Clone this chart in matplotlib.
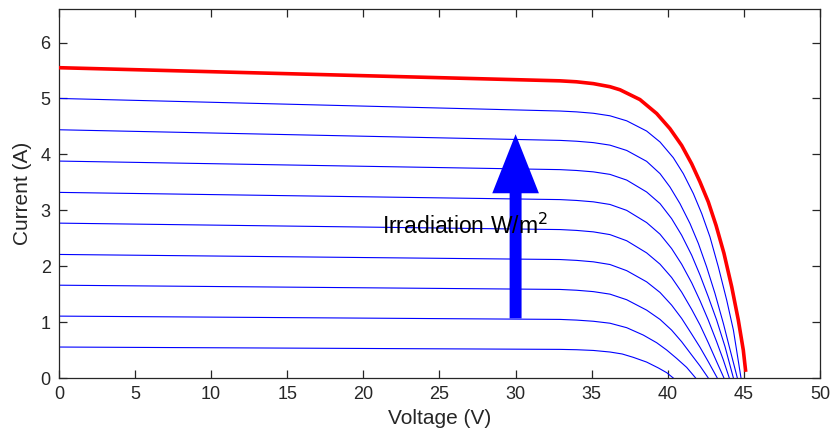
import matplotlib
matplotlib.use("Agg")
import matplotlib.pyplot as plt

plt.rcParams['font.family'] = ['Liberation Sans', 'DejaVu Sans']

# I-V curves, lowest irradiation first (volts, amps)
volt_1 = [0, 32.92, 34.0, 35.11, 36.2, 37.0, 37.73, 38.61, 39.38, 39.93, 40.36]
amp_1 = [0.554, 0.512, 0.506, 0.493, 0.465, 0.43, 0.37, 0.285, 0.18, 0.095, 0]
volt_2 = [0, 32.92, 34.0, 35.11, 36.2, 37.30, 38.39, 39.27, 39.93, 40.58, 41.24, 41.83]
amp_2 = [1.107, 1.048, 1.036, 1.015, 0.98, 0.90, 0.768, 0.631, 0.5, 0.351, 0.19, 0]
volt_3 = [0, 32.92, 34.0, 35.11, 36.2, 37.30, 38.61, 39.49, 40.25, 40.91, 41.57, 42.12, 42.66]
amp_3 = [1.66, 1.584, 1.57, 1.545, 1.50, 1.40, 1.214, 1.048, 0.857, 0.649, 0.411, 0.214, 0]
volt_4 = [0, 32.92, 34.0, 35.11, 36.2, 37.30, 38.61, 39.49, 40.25, 40.91, 41.57, 42.12, 42.66, 43.25]
amp_4 = [2.21, 2.119, 2.104, 2.078, 2.03, 1.92, 1.720, 1.53, 1.304, 1.066, 0.786, 0.548, 0.292, 0]
volt_5 = [0, 32.92, 34.0, 35.11, 36.2, 37.30, 38.61, 39.49, 40.25, 40.91, 41.57, 42.12, 42.66,
          43.21, 43.69]
amp_5 = [2.77, 2.655, 2.640, 2.614, 2.565, 2.455, 2.238, 2.036, 1.798, 1.536, 1.227, 0.947, 0.631,
         0.292, 0]
volt_6 = [0, 32.92, 34.0, 35.11, 36.2, 37.30, 38.61, 39.49, 40.25, 40.91, 41.57, 42.12, 42.66,
          43.21, 43.65, 44.04]
amp_6 = [3.32, 3.191, 3.176, 3.151, 3.104, 2.998, 2.78, 2.572, 2.316, 2.036, 1.703, 1.381, 1.036,
         0.649, 0.322, 0]
volt_7 = [0, 32.92, 34.0, 35.11, 36.2, 37.30, 38.61, 39.49, 40.25, 40.91, 41.57, 42.12, 42.66,
          43.21, 43.76, 44.31]
amp_7 = [3.88, 3.727, 3.712, 3.687, 3.642, 3.54, 3.327, 3.119, 2.851, 2.554, 2.196, 1.839, 1.452,
         1.036, 0.56, 0]
volt_8 = [0, 32.92, 34.0, 35.11, 36.2, 37.30, 38.61, 39.49, 40.14, 40.80, 41.46, 42.01, 42.55,
          43.10, 43.65, 44.04, 44.57]
amp_8 = [4.44, 4.25, 4.235, 4.21, 4.165, 4.07, 3.875, 3.655, 3.417, 3.119, 2.762, 2.405, 1.988,
         1.512, 0.977, 0.56, 0]
volt_9 = [0, 32.92, 34.0, 35.11, 36.2, 37.30, 38.61, 39.49, 40.36, 41.02, 41.68, 42.23, 42.77,
          43.32, 43.87, 44.31, 44.81]
amp_9 = [5.0, 4.775, 4.76, 4.735, 4.69, 4.60, 4.417, 4.221, 3.941, 3.655, 3.298, 2.94, 2.524,
         1.988, 1.393, 0.857, 0]

# full irradiation (red)
volt_full = [0, 32.92, 34.0, 35.11, 36.2, 36.86, 38.17, 39.27, 40.14, 40.91, 41.57, 42.11, 42.66,
             43.17, 43.69, 44.20, 44.63, 44.96, 45.12]
amp_full = [5.55, 5.315, 5.298, 5.265, 5.21, 5.155, 4.98, 4.73, 4.46, 4.16, 3.83, 3.51, 3.15,
            2.73, 2.23, 1.63, 1.04, 0.50, 0.11]

blue_curves = [(volt_1, amp_1), (volt_2, amp_2), (volt_3, amp_3), (volt_4, amp_4),
               (volt_5, amp_5), (volt_6, amp_6), (volt_7, amp_7), (volt_8, amp_8),
               (volt_9, amp_9)]

arrow_v = 30
arrow_from = 1.066
arrow_to = 4.36

x_ticks = [0, 5, 10, 15, 20, 25, 30, 35, 40, 45, 50]
y_ticks = [0, 1, 2, 3, 4, 5, 6]

fig = plt.figure(figsize=(8.33, 4.43), dpi=100)
ax = fig.add_axes([0.0708, 0.1467, 0.9136, 0.833])

for v, i in blue_curves:
    ax.plot(v, i, color='#0000ff', linewidth=0.8, zorder=2)
ax.plot(volt_full, amp_full, color='#ff0000', linewidth=2.6, solid_capstyle='butt', zorder=4)

ax.annotate('', xy=(arrow_v, arrow_to), xytext=(arrow_v, arrow_from),
            arrowprops=dict(facecolor='#0000ff', edgecolor='none', width=8.6,
                            headwidth=33.6, headlength=42.5, shrink=0),
            zorder=3)
ax.text(21.2, 2.71, 'Irradiation W/m$^2$', fontsize=16.5, color='black',
        va='center', ha='left', zorder=5)

ax.set_xlim(0, 50)
ax.set_ylim(0, 6.6)
ax.set_xticks(x_ticks)
ax.set_yticks(y_ticks)
ax.tick_params(direction='in', length=6, width=0.9, top=True, right=True,
               labelsize=13, colors='#262626', pad=6)
for s in ax.spines.values():
    s.set_color('#262626')
    s.set_linewidth(0.9)

ax.set_xlabel('Voltage (V)', fontsize=15, color='#262626', labelpad=4)
ax.set_ylabel('Current (A)', fontsize=15, color='#262626', labelpad=6)

fig.savefig('out.png', dpi=100)
